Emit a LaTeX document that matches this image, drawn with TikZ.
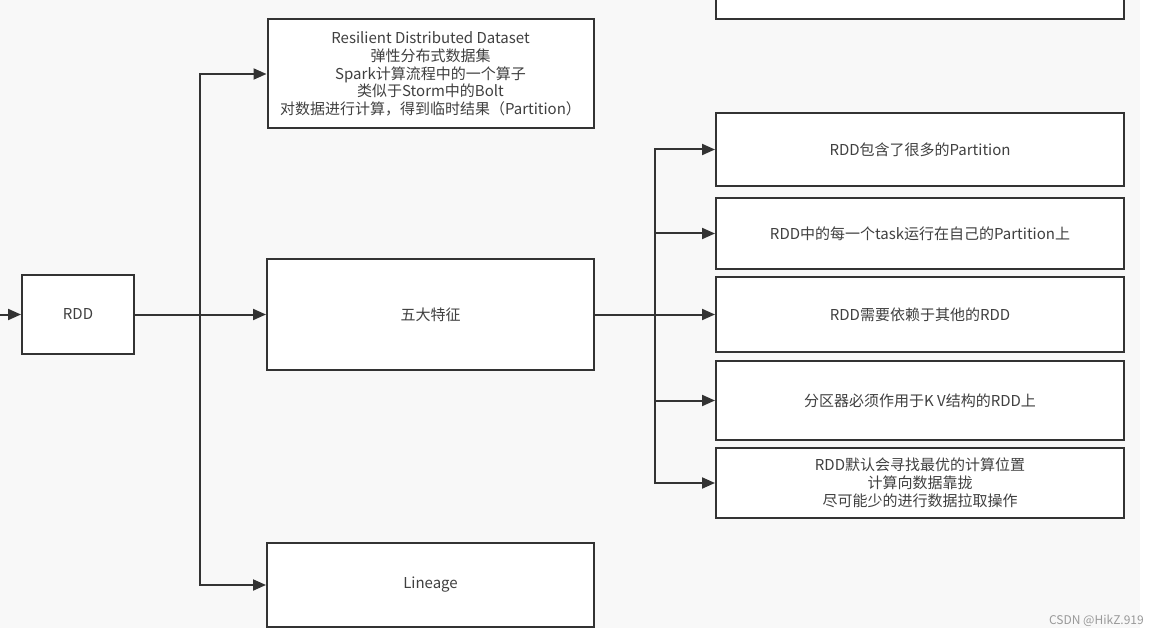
\documentclass[tikz,border=0pt]{standalone}
\usepackage{fontspec}
\setmainfont{Noto Sans CJK SC}
\usetikzlibrary{arrows.meta, positioning, calc}
\definecolor{linegray}{HTML}{333333}
\definecolor{textgray}{HTML}{404040}
\definecolor{canvas}{HTML}{F8F8F8}

\begin{document}
\begin{tikzpicture}[
  x=1pt,
  y=1pt,
  >={Triangle[length=13pt, width=11pt]},
  font=\fontsize{15}{17.8}\selectfont,
  box/.style={draw=linegray, line width=2pt, fill=white, align=center,
    text=textgray, inner sep=2pt},
  arrow/.style={->, draw=linegray, line width=2pt},
  link/.style={draw=linegray, line width=2pt}
]
  \useasboundingbox (0,0) rectangle (1159,-636);
  \clip (0,0) rectangle (1159,-636);
  \fill[white] (0,0) rectangle (1159,-636);
  \fill[canvas] (0,0) rectangle (1140,-628);

  % Root node and its three branches.
  \node[box, minimum width=112pt, minimum height=79pt] at (78,-314.5)      (rdd)     {RDD};
  \node[box, minimum width=326pt, minimum height=109pt] at (430.5,-74)     (intro)   {
    Resilient Distributed Dataset\\
    弹性分布式数据集\\
    Spark计算流程中的一个算子\\
    类似于Storm中的Bolt\\
    对数据进行计算，得到临时结果（Partition）};
  \node[box, minimum width=327pt, minimum height=111pt] at (430.5,-314.5)  (feat)    {五大特征};
  \node[box, minimum width=327pt, minimum height=84pt] at (430.5,-585)     (lineage) {Lineage};

  \coordinate (entry)    at (0,-314.5);
  \coordinate (rddsplit) at (200,-314.5);
  \draw[arrow] (entry) -- (rdd.west);
  \draw[link]  (rdd.east) -- (rddsplit);
  \draw[arrow] (rddsplit) |- (intro.west);
  \draw[arrow] (rddsplit) -- (feat.west);
  \draw[arrow] (rddsplit) |- (lineage.west);

  % The five features.
  \node[box, minimum width=408pt, minimum height=60pt] at (920,11)         (above)   {};
  \node[box, minimum width=408pt, minimum height=73pt] at (920,-149.5)     (part)    {RDD包含了很多的Partition};
  \node[box, minimum width=408pt, minimum height=71pt] at (920,-233.5)     (task)    {RDD中的每一个task运行在自己的Partition上};
  \node[box, minimum width=408pt, minimum height=75pt] at (920,-314.5)     (depend)  {RDD需要依赖于其他的RDD};
  \node[box, minimum width=408pt, minimum height=79pt] at (920,-400.5)     (kv)      {分区器必须作用于K V结构的RDD上};
  \node[box, minimum width=408pt, minimum height=70pt] at (920,-483)       (locate)  {
    RDD默认会寻找最优的计算位置\\
    计算向数据靠拢\\
    尽可能少的进行数据拉取操作};

  \coordinate (featsplit) at (655,-314.5);
  \draw[link]  (feat.east) -- (featsplit);
  \draw[arrow] (featsplit) |- (part.west);
  \draw[arrow] (featsplit) |- (task.west);
  \draw[arrow] (featsplit) -- (depend.west);
  \draw[arrow] (featsplit) |- (kv.west);
  \draw[arrow] (featsplit) |- (locate.west);

  \node[anchor=east, text=black!40, font=\fontsize{12}{14}\selectfont, inner sep=0pt]
    at (1144,-621) (mark) {CSDN @HikZ.919};
\end{tikzpicture}
\end{document}
